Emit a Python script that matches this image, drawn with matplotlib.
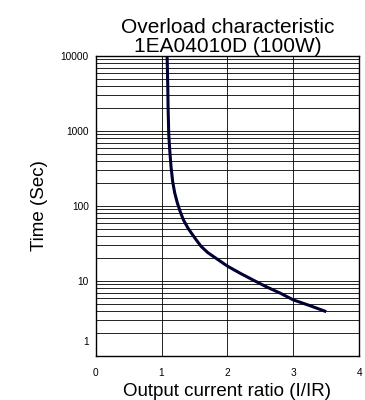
import matplotlib
matplotlib.use("Agg")
import matplotlib.pyplot as plt
from matplotlib.ticker import LogLocator, NullFormatter, FixedLocator

plt.rcParams['font.family'] = ['Liberation Sans', 'DejaVu Sans']

# curve
ratio = [1.085, 1.095, 1.10, 1.11, 1.125, 1.145, 1.17, 1.20, 1.24, 1.28, 1.33, 1.40, 1.45,
         1.52, 1.60, 1.70, 1.83, 2.0, 2.2, 2.4, 2.6, 2.8, 3.0, 3.25, 3.5]
seconds = [10000, 4000, 2000, 900, 550, 330, 210, 150, 110, 86, 66, 51, 44,
           36, 29, 24, 20, 15.8, 12.6, 10.2, 8.3, 6.9, 5.6, 4.7, 3.9]

x_ticks = [0, 1, 2, 3, 4]
y_ticks = [10, 100, 1000, 10000]
y_tick_labels = ["10", "100", "1000", "10000"]

fig = plt.figure(figsize=(3.65, 4.0), dpi=100)
ax = fig.add_axes([0.262, 0.11, 0.722, 0.75])

ax.set_yscale('log')
ax.set_xlim(0, 4)
ax.set_ylim(1, 10000)

ax.yaxis.set_major_locator(FixedLocator(y_ticks))
ax.set_yticklabels(y_tick_labels)
ax.yaxis.set_minor_locator(LogLocator(base=10, subs=range(2, 10)))
ax.yaxis.set_minor_formatter(NullFormatter())
ax.set_xticks(x_ticks)

ax.grid(which='both', axis='y', color='black', lw=0.6)
ax.xaxis.grid(True, color='black', lw=0.6)
ax.tick_params(which='both', length=0, labelsize=7.3)
ax.tick_params(axis='y', pad=5)
ax.tick_params(axis='x', pad=9)
for s in ax.spines.values():
    s.set_linewidth(1.0)

# the "1" label sits a bit above the bottom edge in the original
ax.annotate("1", xy=(0, 1), xycoords=('axes fraction', 'data'), xytext=(-5, 10),
            textcoords='offset points', ha='right', va='center', fontsize=7.3)

ax.plot(ratio, seconds, color='#000033', lw=2.2, solid_capstyle='butt')

ax.set_title("Overload characteristic\n1EA04010D (100W)", fontsize=15, pad=-3,
             linespacing=1.0)
ax.set_xlabel("Output current ratio (I/IR)", fontsize=13.5, labelpad=3)
ax.set_ylabel("Time (Sec)", fontsize=13.5, labelpad=9)

fig.savefig("out.png", dpi=100)
